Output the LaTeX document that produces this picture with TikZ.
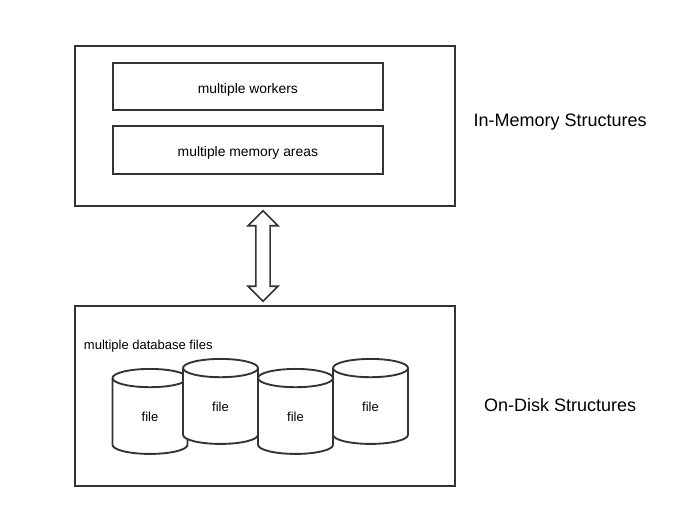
\documentclass[tikz,border=0pt]{standalone}
\usepackage{fontspec}
\setmainfont{Liberation Sans}
\usetikzlibrary{positioning,shapes.geometric,shapes.arrows}
\definecolor{linegray}{HTML}{333333}

\begin{document}
\begin{tikzpicture}[auto ,on grid ,
every node/.style ={text=black ,font=\fontsize{9.75pt}{11pt}\selectfont},
outer/.style ={rectangle ,draw=linegray ,line width =1.4pt ,minimum width =285pt},
inner/.style ={rectangle ,draw=linegray ,line width =1.4pt ,minimum width =202.75pt ,minimum height =35.6pt ,
font=\fontsize{10.4pt}{12pt}\selectfont ,text height =10.5pt ,text depth =0pt},
caption/.style ={font=\fontsize{13.5pt}{15pt}\selectfont},
dbfile/.style ={cylinder ,shape border rotate =90 ,aspect =1.1 ,draw=linegray ,fill=white ,
line width =1.4pt ,minimum width =56.25pt ,minimum height =63.75pt ,inner sep =0pt},
linkarrow/.style ={double arrow ,draw=linegray ,fill=white ,line width =1.2pt ,rotate =90 ,
minimum height =68pt ,minimum width =21.5pt ,double arrow head extend =6pt ,inner sep =4.7pt}]
\useasboundingbox (-198.75pt,94.5pt) rectangle (312.75pt,-284.25pt);
\node[outer,minimum height =120pt] (mem) {};
\node[outer,minimum height =135pt] (disk) [below = 202.5pt of mem] {};
\node[inner] (workers) [above left = 29.6pt and 12.85pt of mem] {multiple workers};
\node[inner] (areas) [below = 47.6pt of workers] {multiple memory areas};
\node[caption] (memlabel) [right = 221.4pt of mem,yshift=3pt,inner sep=0pt] {In-Memory Structures};
\node[caption] (disklabel) [right = 221.4pt of disk,yshift=-6.75pt,inner sep=0pt] {On-Disk Structures};
\node (dbfiles) [above right = 37.5pt and 7.25pt of disk.west,anchor=west,inner sep=0pt] {multiple database files};
\node[dbfile] (file1) [below left = 15.35pt and 86.25pt of disk] {file};
\node[dbfile] (file2) [above right = 7.5pt and 52.9pt of file1] {file};
\node[dbfile] (file3) [below right = 7.5pt and 56.25pt of file2] {file};
\node[dbfile] (file4) [above right = 7.5pt and 56.25pt of file3] {file};
\path (mem.south) -- (disk.north) node[linkarrow,midway,anchor=center,yshift=1.5pt] (link) {};
\end{tikzpicture}
\end{document}
